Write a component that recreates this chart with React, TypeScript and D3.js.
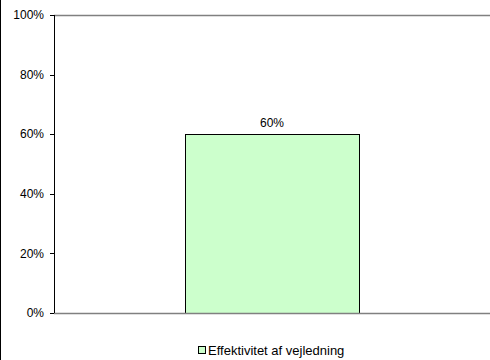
import React from "react";
import * as d3 from "d3";

// chart data
const categories = ["Effektivitet af vejledning"];
const values = [0.6];
const yTicks = [0, 0.2, 0.4, 0.6, 0.8, 1];
const seriesName = "Effektivitet af vejledning";

const width = 490;
const height = 360;
const margin = { top: 15, right: 0, bottom: 47, left: 54 };
const font = "Liberation Sans, Arial, sans-serif";

const App: React.FC = () => {
  const x = d3
    .scaleBand<string>()
    .domain(categories)
    .range([margin.left, width - margin.right])
    .paddingInner(0.6)
    .paddingOuter(0.3);

  const y = d3
    .scaleLinear()
    .domain([0, 1])
    .range([height - margin.bottom, margin.top]);

  const fmt = d3.format(".0%");

  return (
    <svg
      width={width}
      height={height}
      style={{ position: "absolute", left: 0, top: 0, background: "#fff" }}
      fontFamily={font}
    >
      {/* outer border left */}
      <line x1={0.5} x2={0.5} y1={0} y2={height} stroke="#000" />

      {/* top plot line */}
      <line
        x1={margin.left}
        x2={width - margin.right}
        y1={y(1) + 0.5}
        y2={y(1) + 0.5}
        stroke="#808080"
        strokeWidth={1.5}
      />

      {/* bars */}
      {categories.map((c, i) => (
        <g key={c}>
          <rect
            x={Math.round(x(c)!) + 0.5}
            y={Math.round(y(values[i])) + 0.5}
            width={Math.round(x.bandwidth())}
            height={Math.round(y(0) - y(values[i]))}
            fill="#ccffcc"
            stroke="#000"
          />
          <text
            x={x(c)! + x.bandwidth() / 2}
            y={y(values[i]) - 7}
            textAnchor="middle"
            fontSize={12}
          >
            {fmt(values[i])}
          </text>
        </g>
      ))}

      <line
        x1={margin.left}
        x2={width - margin.right}
        y1={y(0) + 0.5}
        y2={y(0) + 0.5}
        stroke="#808080"
        strokeWidth={1.5}
      />

      {/* y axis */}
      <line
        x1={margin.left + 0.5}
        x2={margin.left + 0.5}
        y1={y(1)}
        y2={y(0)}
        stroke="#000"
      />
      {yTicks.map((t) => (
        <g key={t}>
          <line
            x1={margin.left - 4}
            x2={margin.left}
            y1={Math.round(y(t)) + 0.5}
            y2={Math.round(y(t)) + 0.5}
            stroke="#000"
          />
          <text
            x={margin.left - 10}
            y={y(t)}
            dy="0.35em"
            textAnchor="end"
            fontSize={12}
          >
            {fmt(t)}
          </text>
        </g>
      ))}

      {/* legend */}
      <g transform="translate(198, 346)">
        <rect x={0.5} y={0.5} width={7} height={7} fill="#ccffcc" stroke="#000" />
        <text x={10} y={4} dy="0.35em" fontSize={13}>
          {seriesName}
        </text>
      </g>
    </svg>
  );
};

export default App;
